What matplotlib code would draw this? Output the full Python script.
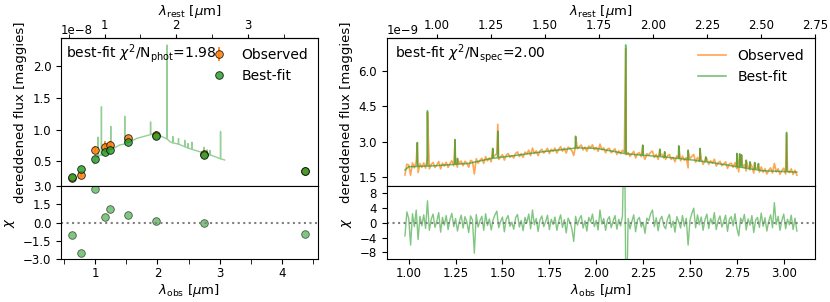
import numpy as np
import matplotlib
matplotlib.use("Agg")
import matplotlib.pyplot as plt
from matplotlib.ticker import MultipleLocator

redshift = 0.151

# ---------------- photometry (flux in 1e-8 maggies) ----------------
phot_wave = [0.63, 0.77, 0.99, 1.15, 1.245, 1.535, 1.98, 2.75, 4.38]
phot_obs = [0.24, 0.29, 0.685, 0.726, 0.76, 0.87, 0.91, 0.61, 0.35]
phot_err = [0.01, 0.04, 0.05, 0.09, 0.06, 0.05, 0.07, 0.02, 0.02]
phot_model = [0.25, 0.385, 0.54, 0.65, 0.68, 0.80, 0.90, 0.60, 0.35]
phot_chi = [-1.04, -2.49, 2.73, 0.46, 1.12, 0.65, 0.16, -0.06, -0.90]

# best-fit model spectrum shown in the photometry panel (1e-8 maggies)
sed_cont_wave = [0.98, 1.01, 1.08, 1.40, 1.67, 1.96, 2.20, 2.58, 2.85, 3.08]
sed_cont_flux = [0.46, 0.57, 0.60, 0.76, 0.86, 0.94, 0.81, 0.68, 0.60, 0.52]
sed_line_wave = [1.046, 1.10, 1.25, 1.475, 1.89, 2.157, 2.248, 2.339, 2.44,
                 2.49, 2.554, 2.75, 2.80, 2.845, 3.015]
sed_line_base = [0.57, 0.60, 0.68, 0.77, 0.92, 0.85, 0.79, 0.77, 0.73,
                 0.71, 0.69, 0.63, 0.61, 0.60, 0.54]
sed_line_peak = [0.88, 1.36, 1.05, 1.21, 1.12, 2.33, 0.89, 0.86, 0.83,
                 0.78, 0.80, 0.72, 0.68, 0.67, 0.97]

# ---------------- spectroscopy (flux in 1e-9 maggies) ----------------
spec_wave = np.round(np.arange(0.98, 3.075, 0.01), 3)
spec_obs = [
    1.59, 2.05, 2.01, 1.58, 2.10, 1.89, 2.16, 1.69, 2.07, 1.91,
    2.10, 1.88, 2.33, 1.85, 2.04, 2.12, 1.91, 2.02, 2.16, 1.85,
    2.09, 1.97, 2.13, 1.91, 2.08, 2.19, 1.98, 2.11, 1.92, 2.08,
    2.18, 1.98, 2.17, 2.09, 1.92, 2.21, 2.16, 1.63, 2.28, 2.09,
    2.21, 2.30, 2.08, 2.37, 2.19, 2.31, 2.15, 2.33, 2.43, 2.50,
    2.25, 2.36, 2.45, 2.22, 2.43, 2.50, 2.34, 2.41, 2.31, 2.50,
    2.57, 2.37, 2.49, 2.34, 2.56, 2.49, 2.64, 2.41, 2.73, 2.50,
    2.61, 2.41, 2.61, 2.68, 2.52, 2.61, 2.72, 2.50, 2.68, 2.60,
    2.73, 2.52, 2.68, 2.79, 2.60, 2.73, 2.52, 2.77, 2.72, 2.62,
    2.42, 2.84, 2.70, 2.80, 2.86, 2.65, 2.77, 2.60, 2.82, 2.74,
    2.87, 2.66, 2.76, 2.59, 2.90, 2.66, 2.74, 2.53, 2.69, 2.72,
    2.53, 2.62, 2.70, 2.46, 2.61, 2.49, 2.64, 2.55, 2.45, 2.55,
    2.38, 2.49, 2.59, 2.31, 2.50, 2.53, 2.37, 2.44, 2.25, 2.49,
    2.44, 2.55, 2.60, 2.33, 2.46, 2.25, 2.42, 2.47, 2.31, 2.25,
    2.40, 2.46, 2.25, 2.34, 2.15, 2.40, 2.30, 2.19, 2.39, 2.21,
    2.33, 1.89, 2.28, 2.38, 2.46, 2.13, 2.33, 2.16, 2.27, 2.04,
    2.20, 2.28, 2.04, 2.19, 2.09, 2.26, 1.97, 2.10, 2.17, 1.98,
    2.06, 2.15, 1.87, 2.06, 2.09, 1.92, 2.11, 1.86, 1.72, 1.99,
    1.92, 2.03, 1.76, 1.93, 1.81, 1.96, 1.67, 1.86, 1.89, 1.71,
    1.93, 1.71, 1.85, 1.63, 1.79, 1.89, 1.67, 2.08, 1.72, 1.85,
    1.62, 1.78, 1.88, 1.63, 1.79, 1.69, 1.85, 1.61, 1.79, 1.58,
]
spec_chi = [
    -3.5, 3.0, 1.2, -6.0, 2.5, -1.0, 3.5, -4.5, 1.8, -0.8,
    2.2, -1.5, 6.0, -2.0, 1.0, 2.4, -1.2, 0.5, 2.8, -2.5,
    1.5, -0.6, 2.0, -1.8, 0.9, 2.6, -1.0, 1.2, -2.2, 0.4,
    2.1, -1.4, 1.7, 0.3, -2.6, 1.9, 0.8, -8.2, 2.3, -1.1,
    0.6, 1.8, -2.0, 2.5, -0.7, 1.1, -1.9, 0.9, 2.2, 3.2,
    -1.3, 0.4, 1.6, -2.4, 1.0, 2.0, -0.9, 0.2, -1.7, 1.4,
    2.3, -1.1, 0.7, -2.1, 1.5, 0.1, 2.4, -1.6, 3.5, -0.5,
    1.2, -2.3, 0.8, 1.9, -1.0, 0.3, 2.1, -1.8, 1.0, -0.4,
    1.6, -2.0, 0.5, 2.2, -1.2, 0.9, -2.7, 1.3, 0.2, -1.5,
    -5.0, 1.8, -0.6, 1.1, 2.0, -1.4, 0.6, -2.2, 1.5, 0.3,
    2.4, -1.0, 0.7, -1.9, 3.5, -0.3, 1.2, -2.0, 0.9, 1.7,
    -1.3, 0.5, 2.0, -1.7, 1.0, -0.8, 1.9, 30.0, -30.0, 1.2,
    -1.6, 0.4, 2.2, -2.4, 0.8, 1.5, -1.1, 0.2, -2.8, 1.3,
    0.6, 2.5, 3.5, -1.0, 1.4, -2.1, 0.9, 1.8, -0.7, -1.6,
    1.1, 2.3, -1.2, 0.5, -2.5, 1.7, 0.3, -1.4, 2.0, -0.9,
    1.3, -6.0, 0.8, 2.6, 4.0, -1.3, 2.2, -0.5, 1.6, -2.0,
    0.9, 2.4, -1.5, 1.2, -0.3, 2.8, -1.8, 0.6, 1.9, -1.1,
    0.4, 2.1, -2.3, 1.0, 1.7, -0.8, 2.5, -1.4, -3.5, 1.3,
    0.2, 2.3, -1.9, 1.1, -0.6, 2.0, -2.6, 0.8, 1.5, -1.2,
    2.7, -0.9, 1.4, -2.2, 0.5, 2.2, -1.3, 5.5, -0.4, 1.8,
    -2.0, 0.7, 2.4, -1.6, 1.0, -0.5, 2.1, -1.8, 1.3, -2.2,
]
spec_cont_wave = [0.98, 1.00, 1.14, 1.32, 1.49, 1.60, 1.72, 1.80, 1.90,
                  2.00, 2.10, 2.17, 2.35, 2.52, 2.70, 2.88, 3.07]
spec_cont_flux = [1.80, 1.94, 1.98, 2.08, 2.34, 2.45, 2.58, 2.65, 2.74,
                  2.72, 2.58, 2.48, 2.36, 2.22, 2.01, 1.77, 1.71]
spec_line_wave = [1.046, 1.10, 1.247, 1.26, 1.448, 1.475, 1.89, 2.157, 2.248,
                  2.339, 2.365, 2.44, 2.49, 2.554, 2.584, 2.75, 2.765, 2.775,
                  2.80, 2.82, 2.845, 2.865, 3.015]
spec_line_base = [1.95, 1.97, 2.04, 2.05, 2.30, 2.32, 2.73, 2.49, 2.43,
                  2.37, 2.35, 2.29, 2.24, 2.18, 2.15, 1.94, 1.92, 1.91,
                  1.88, 1.85, 1.82, 1.80, 1.73]
spec_line_peak = [2.97, 4.32, 3.10, 2.30, 2.72, 3.45, 3.24, 7.11, 2.86,
                  2.69, 2.58, 2.83, 2.65, 2.72, 2.36, 2.51, 2.49, 2.45,
                  2.22, 2.15, 2.12, 2.08, 3.40]
spec_line_obs_peak = [2.95, 4.25, 3.05, 2.28, 2.70, 3.74, 3.20, 6.95, 2.84,
                      2.66, 2.55, 2.80, 2.62, 2.70, 2.33, 2.48, 2.46, 2.42,
                      2.20, 2.12, 2.10, 2.05, 3.35]

scale_phot = 1e-8
scale_spec = 1e-9
half_width = 0.002


def merge_lines(cw, cf, lw, lb, lp):
    xs = list(cw)
    ys = list(cf)
    for w, b, p in zip(lw, lb, lp):
        xs += [w - half_width, w, w + half_width]
        ys += [b, p, b]
    order = np.argsort(xs, kind="stable")
    return np.asarray(xs)[order], np.asarray(ys)[order]


def merge_points(gw, gf, lw, lp):
    xs = list(gw) + list(lw)
    ys = list(gf) + list(lp)
    order = np.argsort(xs, kind="stable")
    return np.asarray(xs)[order], np.asarray(ys)[order]


plt.rcParams['font.family'] = ['DejaVu Sans']
fig = plt.figure(figsize=(8.3, 3.02), dpi=100)

c_obs = '#ff7f0e'
c_mod = '#2ca02c'
tick_fs = 8.5
label_fs = 9.5

to_rest = (lambda x: x / (1 + redshift), lambda x: x * (1 + redshift))

# ================= left: photometry =================
axL = fig.add_axes([0.0735, 0.384, 0.3095, 0.490])
axLr = fig.add_axes([0.0735, 0.142, 0.3095, 0.242], sharex=axL)

sx, sy = merge_lines(sed_cont_wave, sed_cont_flux, sed_line_wave,
                     sed_line_base, sed_line_peak)
axL.plot(sx, sy * scale_phot, color=c_mod, alpha=0.5, lw=1.0, zorder=1)
h_obs = axL.errorbar(phot_wave, np.array(phot_obs) * scale_phot,
                     yerr=np.array(phot_err) * scale_phot, fmt='o',
                     color=c_obs, ecolor=c_obs, mec='k', mew=0.6, ms=5.5,
                     elinewidth=1.5, alpha=0.85, label='Observed', zorder=3)
h_mod, = axL.plot(phot_wave, np.array(phot_model) * scale_phot, 'o',
                  color=c_mod, mec='k', mew=0.6, ms=5.5, alpha=0.85,
                  label='Best-fit', zorder=4)
axL.set_xlim(0.45, 4.58)
axL.set_ylim(0.11 * scale_phot, 2.44 * scale_phot)
axL.set_yticks(np.array([0.5, 1.0, 1.5, 2.0]) * scale_phot)
axL.set_ylabel('dereddened flux [maggies]', fontsize=label_fs)
axL.tick_params(labelsize=tick_fs, bottom=False, labelbottom=False)
axL.yaxis.get_offset_text().set_fontsize(tick_fs)
axL.text(0.02, 0.975, r'best-fit $\chi^2$/N$_{\rm phot}$=1.98',
         transform=axL.transAxes, ha='left', va='top', fontsize=10)
axL.legend(handles=[h_obs, h_mod], loc='upper right', frameon=False,
           fontsize=10, handletextpad=0.6, borderaxespad=0.3)
secL = axL.secondary_xaxis('top', functions=to_rest)
secL.set_xlabel(r'$\lambda_{\rm rest}$ [$\mu$m]', fontsize=label_fs,
                labelpad=2.5)
secL.xaxis.set_major_locator(MultipleLocator(1))
secL.xaxis.set_minor_locator(MultipleLocator(0.5))
secL.tick_params(labelsize=tick_fs, pad=1.5, length=3.2)
secL.tick_params(which='minor', length=3.2)

axLr.plot(phot_wave, phot_chi, 'o', color=c_mod, mec='k', mew=0.6, ms=5.5,
          alpha=0.6)
axLr.axhline(0, color='gray', ls=':', lw=1.5)
axLr.set_ylim(-3.0, 3.0)
axLr.set_yticks([-3.0, -1.5, 0.0, 1.5, 3.0])
axLr.xaxis.set_major_locator(MultipleLocator(1))
axLr.xaxis.set_minor_locator(MultipleLocator(0.5))
axLr.tick_params(which='minor', length=3.5)
axLr.tick_params(axis='x', labelsize=tick_fs, pad=2.5)
axLr.tick_params(axis='y', labelsize=tick_fs)
axLr.set_ylabel(r'$\chi$', fontsize=label_fs)
axLr.set_xlabel(r'$\lambda_{\rm obs}$ [$\mu$m]', fontsize=label_fs,
                labelpad=1)

# ================= right: spectroscopy =================
axR = fig.add_axes([0.466, 0.384, 0.516, 0.490])
axRr = fig.add_axes([0.466, 0.142, 0.516, 0.242], sharex=axR)

ox, oy = merge_points(spec_wave, spec_obs, spec_line_wave, spec_line_obs_peak)
mx, my = merge_lines(spec_cont_wave, spec_cont_flux, spec_line_wave,
                     spec_line_base, spec_line_peak)
axR.plot(ox, oy * scale_spec, color=c_obs, alpha=0.7, lw=1.2, label='Observed')
axR.plot(mx, my * scale_spec, color=c_mod, alpha=0.7, lw=1.1, label='Best-fit')
axR.set_xlim(0.883, 3.167)
axR.set_ylim(1.12 * scale_spec, 7.4 * scale_spec)
axR.set_yticks(np.array([1.5, 3.0, 4.5, 6.0]) * scale_spec)
axR.set_ylabel('dereddened flux [maggies]', fontsize=label_fs)
axR.tick_params(labelsize=tick_fs, bottom=False, labelbottom=False)
axR.yaxis.get_offset_text().set_fontsize(tick_fs)
axR.text(0.02, 0.975, r'best-fit $\chi^2$/N$_{\rm spec}$=2.00',
         transform=axR.transAxes, ha='left', va='top', fontsize=10)
axR.legend(loc='upper right', frameon=False, fontsize=10,
           handlelength=2.0, borderaxespad=0.4)
secR = axR.secondary_xaxis('top', functions=to_rest)
secR.set_xlabel(r'$\lambda_{\rm rest}$ [$\mu$m]', fontsize=label_fs,
                labelpad=2.5)
secR.xaxis.set_major_locator(MultipleLocator(0.25))
secR.tick_params(labelsize=tick_fs, pad=1.5, length=3.2)

axRr.plot(spec_wave, spec_chi, color=c_mod, alpha=0.6, lw=1.0)
axRr.axhline(0, color='gray', ls=':', lw=1.5)
axRr.set_ylim(-9.8, 10.0)
axRr.set_yticks([-8, -4, 0, 4, 8])
axRr.xaxis.set_major_locator(MultipleLocator(0.25))
axRr.tick_params(axis='x', labelsize=tick_fs, pad=2.5)
axRr.tick_params(axis='y', labelsize=tick_fs)
axRr.set_ylabel(r'$\chi$', fontsize=label_fs)
axRr.set_xlabel(r'$\lambda_{\rm obs}$ [$\mu$m]', fontsize=label_fs,
                labelpad=1)

fig.savefig('out.png', dpi=100)
